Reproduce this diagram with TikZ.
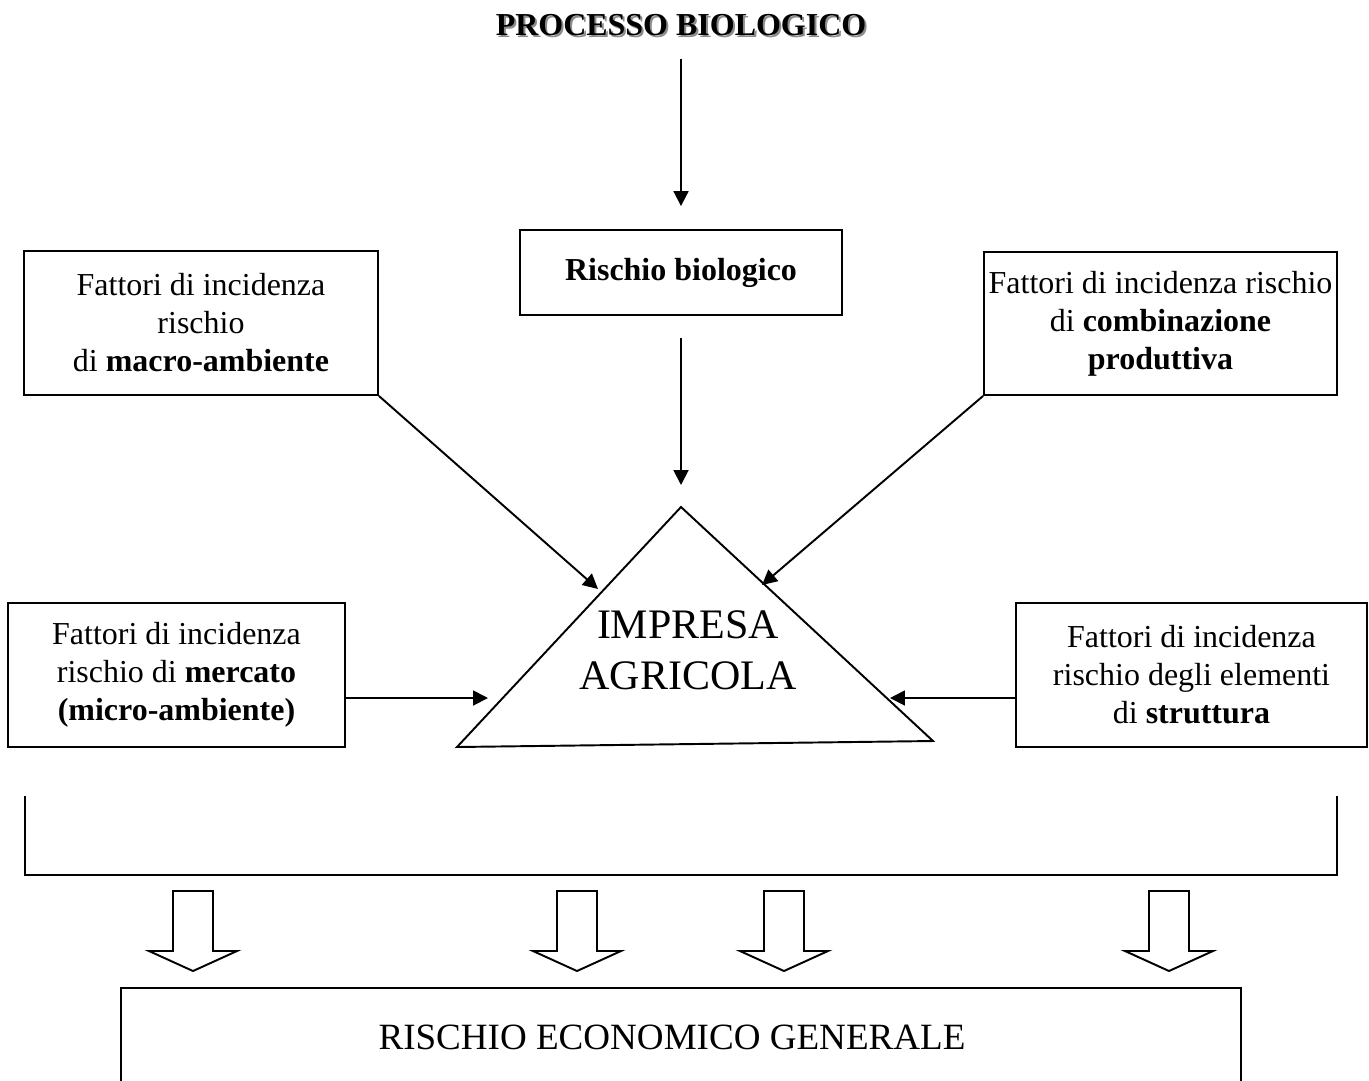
\documentclass[tikz,border=0pt]{standalone}
\usepackage{fontspec}
\setmainfont{Liberation Serif}
\usetikzlibrary{arrows.meta,calc}
\begin{document}
\begin{tikzpicture}[x=0.02cm,y=-0.02cm,
  line width=1.1pt,
  arr/.style={-{Triangle[length=8.5pt,width=8.5pt]}},
  fbox/.style={draw, rectangle, inner sep=0pt, align=center, font=\fontsize{18.2pt}{21.6pt}\selectfont},
  body/.style={inner sep=0pt, align=center, font=\fontsize{18.2pt}{21.6pt}\selectfont},
  blockarr/.style={draw, fill=white, line join=miter}
]
\useasboundingbox (0,0) rectangle (1369,1080);
\fill[white] (0,0) rectangle (1369,1080);
\clip (0,0) rectangle (1369,1080);

% title with shadow
\node[body, text=black!45, font=\fontsize{18.2pt}{21.6pt}\selectfont\bfseries] (titleshadow) at (683,27) {PROCESSO BIOLOGICO};
\node[body, font=\fontsize{18.2pt}{21.6pt}\selectfont\bfseries] (title) at (681,25) {PROCESSO BIOLOGICO};

% boxes
\node[fbox, minimum width=6.44cm, minimum height=1.7cm, font=\fontsize{18.2pt}{21.6pt}\selectfont\bfseries] (bio) at (681,272.5) {Rischio biologico};
\node[fbox, minimum width=7.08cm, minimum height=2.88cm] (macro) at (201,323) {Fattori di incidenza\\rischio\\di \textbf{macro-ambiente}};
\node[fbox, minimum width=7.06cm, minimum height=2.86cm] (comb) at (1160.5,323.5) {Fattori di incidenza rischio\\di \textbf{combinazione}\\\textbf{produttiva}};
\node[fbox, minimum width=6.74cm, minimum height=2.88cm] (mercato) at (176.5,675) {Fattori di incidenza\\rischio di \textbf{mercato}\\\textbf{(micro-ambiente)}};
\node[fbox, minimum width=7.02cm, minimum height=2.88cm] (struttura) at (1191.5,675) {Fattori di incidenza\\rischio degli elementi\\di \textbf{struttura}};

% triangle
\coordinate (apex) at (681,507);
\coordinate (bl) at (457,747);
\coordinate (br) at (933,741);
\draw[line join=miter] (apex) -- (br) -- (bl) -- cycle;
\node[inner sep=0pt, align=center, font=\fontsize{23.9pt}{29pt}\selectfont] (impresa) at (688,650) {IMPRESA\\AGRICOLA};

% connectors
\draw[arr, shorten <=0.44cm, shorten >=0.46cm] (title.south) -- (bio.north);
\draw[arr, shorten <=0.44cm, shorten >=0.44cm] (bio.south) -- (apex);
\coordinate (tl) at (598,589);
\draw[arr] (macro.south east) -- (tl);
\coordinate (tr) at (762,585);
\draw[arr] (comb.south west) -- (tr);
\coordinate (ml) at (488,698);
\draw[arr] (mercato.east |- ml) -- (ml);
\coordinate (mr) at (890,698);
\draw[arr] (struttura.west |- mr) -- (mr);

% bracket
\draw[line join=miter] (25,796) -- (25,875) -- (1337,875) -- (1337,796);

% block arrows
\foreach \c in {193,577,784,1169} {
  \draw[blockarr] (\c-20,891) -- (\c+20,891) -- (\c+20,951) -- (\c+44,951) -- (\c,971) -- (\c-44,951) -- (\c-20,951) -- cycle;
}

% bottom box
\node[draw, minimum width=22.4cm, minimum height=3cm, anchor=north, inner sep=0pt] (econ) at (681,987) {};
\node[inner sep=0pt, font=\fontsize{21.1pt}{25pt}\selectfont] (econtxt) at (672,1037) {RISCHIO ECONOMICO GENERALE};
\end{tikzpicture}
\end{document}
